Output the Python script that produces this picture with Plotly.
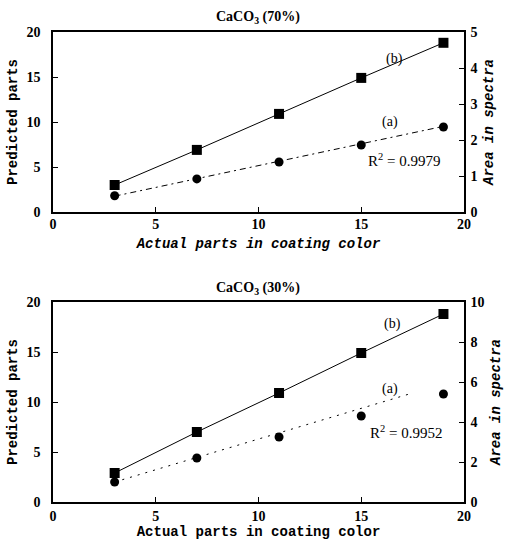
import plotly.graph_objects as go
from plotly.subplots import make_subplots

x_parts = [3, 7, 11, 15, 19]

# Top panel: CaCO3 (70%)
top_pred_b = [3.0, 6.9, 10.9, 14.9, 18.8]        # predicted parts (left axis)
top_area_a = [0.45, 0.92, 1.39, 1.86, 2.36]      # area in spectra (right axis)
top_fit_x = [3, 19]
top_fit_y = [0.44, 2.38]

# Bottom panel: CaCO3 (30%)
bot_pred_b = [2.9, 7.0, 10.9, 14.9, 18.8]
bot_area_a = [1.0, 2.2, 3.25, 4.3, 5.4]
bot_fit_x = [3, 17.5]
bot_fit_y = [1.0, 5.45]

x_ticks = [0, 5, 10, 15, 20]
left_ticks = [0, 5, 10, 15, 20]
top_right_ticks = [0, 1, 2, 3, 4, 5]
bot_right_ticks = [0, 2, 4, 6, 8, 10]

W, H = 508, 549
fig = make_subplots(rows=2, cols=1, specs=[[{"secondary_y": True}], [{"secondary_y": True}]])

blk = "black"
serif = dict(family="Liberation Serif", size=14, color=blk, weight="bold")
mono = dict(family="Liberation Mono", size=14, color=blk, weight="bold")

for row, pb, aa, fx, fy in [(1, top_pred_b, top_area_a, top_fit_x, top_fit_y),
                            (2, bot_pred_b, bot_area_a, bot_fit_x, bot_fit_y)]:
    fig.add_trace(go.Scatter(x=x_parts, y=pb, mode="lines+markers",
                             line=dict(color=blk, width=1),
                             marker=dict(symbol="square", size=10, color=blk),
                             showlegend=False), row=row, col=1, secondary_y=False)
    fig.add_trace(go.Scatter(x=fx, y=fy, mode="lines",
                             line=dict(color=blk, width=1,
                                       dash="6px,4px,2px,4px" if row == 1 else "2px,6px"),
                             showlegend=False), row=row, col=1, secondary_y=True)
    fig.add_trace(go.Scatter(x=x_parts, y=aa, mode="markers",
                             marker=dict(symbol="circle", size=9, color=blk),
                             showlegend=False), row=row, col=1, secondary_y=True)

def ydom(top_px, bot_px):
    return [1 - bot_px / H, 1 - top_px / H]

axis_common = dict(showline=True, linecolor=blk, linewidth=1.5, ticks="inside",
                   ticklen=5, tickcolor=blk, tickwidth=1, showgrid=False, zeroline=False,
                   tickfont=serif, automargin=False)

fig.update_layout(
    width=W, height=H, plot_bgcolor="white", paper_bgcolor="white",
    margin=dict(l=53, r=44, t=0, b=0),
    xaxis=dict(axis_common, range=[0, 20], tickvals=x_ticks, mirror=True, anchor="y",
               domain=[0, 1], ticklabelstandoff=-2,
               title=dict(text="<i>Actual parts in coating color</i>", font=mono, standoff=8)),
    yaxis=dict(axis_common, range=[0, 20], tickvals=left_ticks, domain=ydom(32, 212),
               ticklabelstandoff=8,
               title=dict(text="Predicted parts", font=mono, standoff=6)),
    yaxis2=dict(axis_common, range=[0, 5], tickvals=top_right_ticks, side="right",
                overlaying="y", anchor="x", ticklabelstandoff=2,
                title=dict(text="<i>Area in spectra</i>", font=mono, standoff=7)),
    xaxis2=dict(axis_common, range=[0, 20], tickvals=x_ticks, mirror=True, anchor="y3",
                domain=[0, 1],
                title=dict(text="Actual parts in coating color", font=mono, standoff=4)),
    yaxis3=dict(axis_common, range=[0, 20], tickvals=left_ticks, domain=ydom(302, 502),
                ticklabelstandoff=8,
                title=dict(text="Predicted parts", font=mono, standoff=6)),
    yaxis4=dict(axis_common, range=[0, 10], tickvals=bot_right_ticks, side="right",
                overlaying="y3", anchor="x2", ticklabelstandoff=2,
                title=dict(text="<i>Area in spectra</i>", font=mono, standoff=7)),
)

ann_font = dict(family="Liberation Serif", size=14, color=blk)
r2_font = dict(family="Liberation Serif", size=15, color=blk)
title_font = dict(family="Liberation Serif", size=14, color=blk, weight="bold")
fig.add_annotation(text="CaCO<sub>3</sub> (70%)", xref="paper", yref="paper",
                   x=(258 - 53) / 411, y=1 - 17 / H, xanchor="center", yanchor="middle",
                   showarrow=False, font=title_font)
fig.add_annotation(text="CaCO<sub>3</sub> (30%)", xref="paper", yref="paper",
                   x=(258 - 53) / 411, y=1 - 288 / H, xanchor="center", yanchor="middle",
                   showarrow=False, font=title_font)

fig.add_annotation(text="(b)", x=16.6, y=17.0, xref="x", yref="y", showarrow=False, font=ann_font)
fig.add_annotation(text="(a)", x=16.4, y=10.0, xref="x", yref="y", showarrow=False, font=ann_font)
fig.add_annotation(text="R<sup>2</sup> = 0.9979", x=17.1, y=5.8, xref="x", yref="y",
                   showarrow=False, font=r2_font)
fig.add_annotation(text="(b)", x=16.5, y=17.8, xref="x2", yref="y3", showarrow=False, font=ann_font)
fig.add_annotation(text="(a)", x=16.4, y=11.3, xref="x2", yref="y3", showarrow=False, font=ann_font)
fig.add_annotation(text="R<sup>2</sup> = 0.9952", x=17.2, y=7.0, xref="x2", yref="y3",
                   showarrow=False, font=r2_font)

fig.write_html("out.html")
